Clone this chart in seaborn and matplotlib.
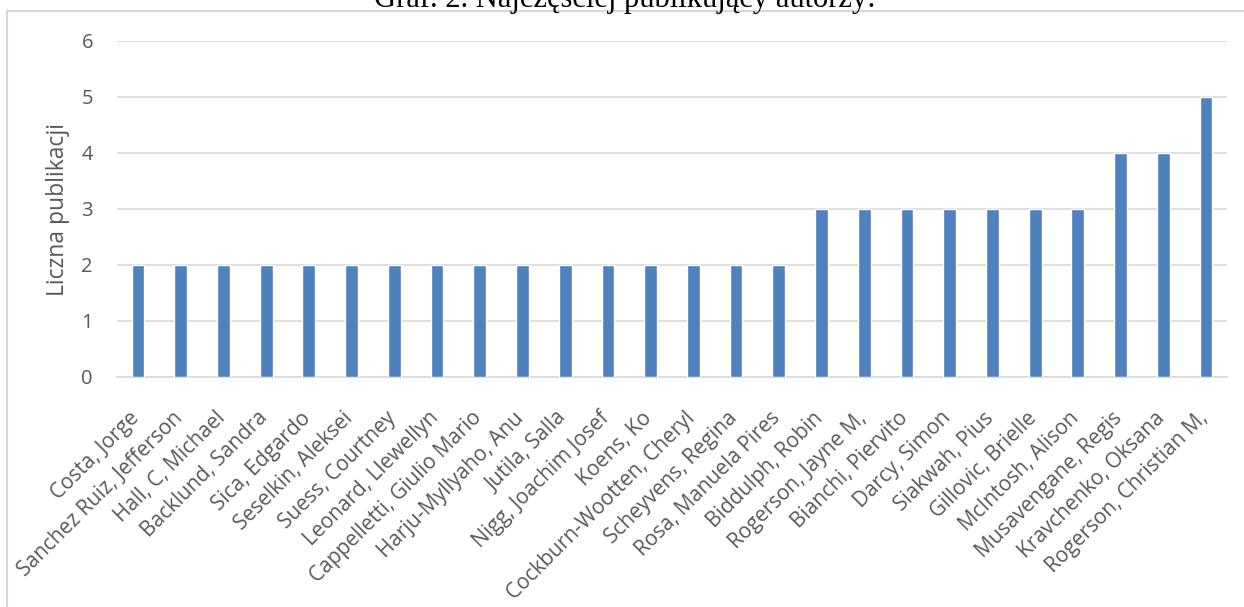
import matplotlib
matplotlib.use("Agg")
import matplotlib.pyplot as plt
import matplotlib.transforms as mtransforms
import seaborn as sns
import pandas as pd
from matplotlib.patches import Rectangle

authors = [
    "Costa, Jorge", "Sanchez Ruiz, Jefferson", "Hall, C, Michael", "Backlund, Sandra",
    "Sica, Edgardo", "Seselkin, Aleksei", "Suess, Courtney", "Leonard, Llewellyn",
    "Cappelletti, Giulio Mario", "Harju-Myllyaho, Anu", "Jutila, Salla",
    "Nigg, Joachim Josef", "Koens, Ko", "Cockburn-Wootten, Cheryl", "Scheyvens, Regina",
    "Rosa, Manuela Pires", "Biddulph, Robin", "Rogerson, Jayne M,", "Bianchi, Piervito",
    "Darcy, Simon", "Siakwah, Pius", "Gillovic, Brielle", "McIntosh, Alison",
    "Musavengane, Regis", "Kravchenko, Oksana", "Rogerson, Christian M,",
]
publications = [2, 2, 2, 2, 2, 2, 2, 2, 2, 2, 2, 2, 2, 2, 2, 2,
                3, 3, 3, 3, 3, 3, 3, 4, 4, 5]
y_ticks = [0, 1, 2, 3, 4, 5, 6]

df = pd.DataFrame({"autor": authors, "liczba": publications})

sns.set_theme(style="white")
plt.rcParams["font.family"] = ["Open Sans", "DejaVu Sans"]

W, H = 1244, 607
fig = plt.figure(figsize=(W / 100, H / 100), dpi=100)

# chart area frame
fig.patches.append(Rectangle((7 / W, -0.01), 1.1, (H - 11) / H + 0.01,
                             transform=fig.transFigure, fill=False,
                             edgecolor="#D9D9D9", linewidth=1.5, zorder=0))

left, right = 116.6 / W, 1227.4 / W
bottom, top = 1 - 377 / H, 1 - 41 / H
ax = fig.add_axes([left, bottom, right - left, top - bottom])

sns.barplot(data=df, x="autor", y="liczba", color="#4F81BD", width=0.30,
            saturation=1, ax=ax, zorder=3)

ax.set_ylim(0, 6)
ax.set_xlim(-0.5, len(authors) - 0.5)
ax.set_yticks(y_ticks)
ax.yaxis.grid(True, color="#D9D9D9", linewidth=1.2, zorder=0)
ax.set_axisbelow(True)
for s in ["left", "right", "top"]:
    ax.spines[s].set_visible(False)
ax.spines["bottom"].set_color("#D9D9D9")
ax.spines["bottom"].set_linewidth(1.2)

ax.tick_params(axis="both", length=0, labelcolor="#595959")
ax.tick_params(axis="y", pad=17, labelsize=14.5)
ax.tick_params(axis="x", pad=22, labelsize=15)
ax.set_xticks(range(len(authors)))
ax.set_xticklabels(authors, rotation=45, ha="right", va="top",
                   rotation_mode="anchor")
shift = mtransforms.ScaledTranslation(-9 / 100, 0, fig.dpi_scale_trans)
for lbl in ax.get_xticklabels():
    lbl.set_transform(lbl.get_transform() + shift)
ax.set_xlabel("")
ax.set_ylabel("Liczna publikacji", fontsize=16.5, color="#595959", labelpad=8)

fig.text(625 / W, 1 - 7 / H, "Graf. 2. Najczęściej publikujący autorzy:",
         ha="center", va="baseline", fontsize=22, family="Liberation Serif",
         color="black")

fig.savefig("out.png", dpi=100)
